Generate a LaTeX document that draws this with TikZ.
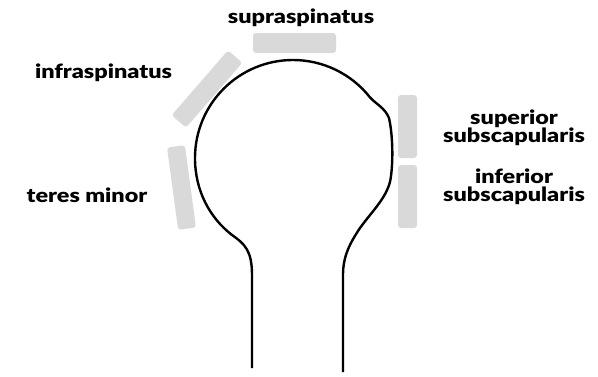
\documentclass[tikz,border=0pt]{standalone}
\usepackage{fontspec}
\setmainfont{Lato}[BoldFont={Lato Black}, BoldFeatures={FakeStretch=1.2}]
\usetikzlibrary{positioning}
\definecolor{tendon}{HTML}{D9D9D9}

\begin{document}
\begin{tikzpicture}[x=1pt, y=1pt,
      muscle/.style={fill=tendon, rounded corners=3pt, inner sep=0pt},
      lbl/.style={font=\bfseries\fontsize{19.5}{18}\selectfont, align=center, inner sep=0pt},
      bone/.style={line width=2.4pt, line join=round}]
    \useasboundingbox (0,0) rectangle (598,376);
    % rotator cuff bands
    \node[muscle, minimum width=83, minimum height=20] (supra) at (294.5,333) {};
    \node[muscle, minimum width=86, minimum height=19, rotate=49] (infra) at (207,287) {};
    \node[muscle, minimum width=18, minimum height=83, rotate=7.7] (teres) at (181.5,188.5) {};
    \node[muscle, minimum width=19, minimum height=63] (supsub) at (407.5,249.5) {};
    \node[muscle, minimum width=19, minimum height=63] (infsub) at (407.5,179.5) {};
    % labels
    \node[lbl] (supraL) at (301,358) {supraspinatus};
    \node[lbl] (infraL) at (103.5,303) {infraspinatus};
    \node[lbl] (teresL) at (87,181) {teres minor};
    \node[lbl] (supsubL) at (514,248) {superior\\subscapularis};
    \node[lbl] (infsubL) at (514,189) {inferior\\subscapularis};
    % humeral head and shaft
    \draw[bone] (252,8) -- (252,101)
      .. controls (252,125) and (245,132) .. (232,141)
      .. controls (210,158) and (195,185) .. (195,218)
      arc[start angle=180, end angle=38, radius=98]
      .. controls (376,272) and (385,268) .. (389,258)
      .. controls (393,240) and (393,215) .. (391,200)
      .. controls (389,180) and (372,165) .. (360,148)
      .. controls (350,133) and (343,120) .. (343,101)
      -- (343,4);
\end{tikzpicture}
\end{document}
